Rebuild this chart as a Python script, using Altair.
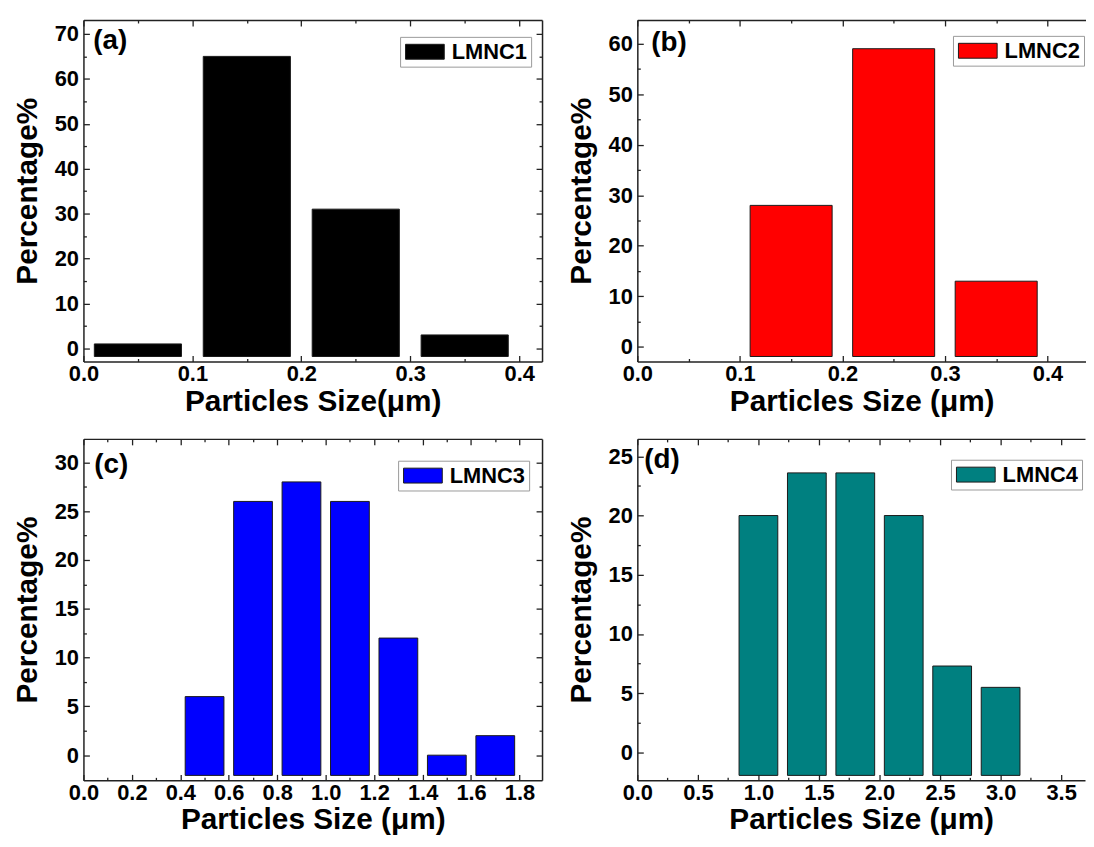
import altair as alt
import pandas as pd

FONT = "Liberation Sans"

# ---- data ----
a_size = [0.05, 0.15, 0.25, 0.35]
a_pct = [1, 65, 31, 3]
b_size = [0.15, 0.25, 0.35]
b_pct = [28, 59, 13]
c_size = [0.5, 0.7, 0.9, 1.1, 1.3, 1.5, 1.7]
c_pct = [6, 26, 28, 26, 12, 0, 2]
d_size = [1.0, 1.4, 1.8, 2.2, 2.6, 3.0]
d_pct = [20, 23.6, 23.6, 20, 7.3, 5.5]

series_names = ["LMNC1", "LMNC2", "LMNC3", "LMNC4"]
series_colors = ["#000000", "#ff0000", "#0000ff", "#008080"]
panel_tags = ["(a)", "(b)", "(c)", "(d)"]

ab_x_major = [0.0, 0.1, 0.2, 0.3, 0.4]
ab_x_minor = [0.05, 0.15, 0.25, 0.35]
a_y_major = [0, 10, 20, 30, 40, 50, 60, 70]
a_y_minor = [5, 15, 25, 35, 45, 55, 65]
b_y_major = [0, 10, 20, 30, 40, 50, 60]
b_y_minor = [5, 15, 25, 35, 45, 55]
c_x_major = [0.0, 0.2, 0.4, 0.6, 0.8, 1.0, 1.2, 1.4, 1.6, 1.8]
c_x_minor = [0.1, 0.3, 0.5, 0.7, 0.9, 1.1, 1.3, 1.5, 1.7]
c_y_major = [0, 5, 10, 15, 20, 25, 30]
c_y_minor = [2.5, 7.5, 12.5, 17.5, 22.5, 27.5]
d_x_major = [0.0, 0.5, 1.0, 1.5, 2.0, 2.5, 3.0, 3.5]
d_x_minor = [0.25, 0.75, 1.25, 1.75, 2.25, 2.75, 3.25]
d_y_major = [0, 5, 10, 15, 20, 25]
d_y_minor = [2.5, 7.5, 12.5, 17.5, 22.5]

X_TITLE_A = "Particles Size(μm)"
X_TITLE = "Particles Size (μm)"
Y_TITLE = "Percentage%"

FRAME = "#222222"
MAJOR = {"expr": "-6"}
MINOR = {"expr": "-3"}


def axis(orient, values, size, labeled=False, title=None, fmt=None, domain=True):
    kw = dict(orient=orient, values=values, tickSize=size, grid=False,
              domain=domain, domainColor=FRAME, domainWidth=1.5,
              tickColor=FRAME, tickWidth=1.3, labels=labeled,
              minExtent=0)
    if labeled:
        kw.update(labelFont=FONT, labelFontSize=22, labelFontWeight="bold",
                  labelColor="black", labelFlush=False, labelOverlap=False,
                  labelPadding=11 if orient == "left" else 8, format=fmt)
    if title:
        kw.update(title=title, titleFont=FONT, titleFontSize=30,
                  titleFontWeight="bold", titleColor="black",
                  titlePadding=12 if orient == "left" else 2)
    else:
        kw.update(title=None)
    if not labeled:
        kw.update(maxExtent=0)
    return alt.Axis(**kw)


def panel(sizes, pcts, bar_w, name, color, tag, xdom, ydom, xmaj, xmin,
          ymaj, ymin, xtitle, W, H, tag_xy, leg_xy, right=True):
    df = pd.DataFrame({"size": sizes, "pct": pcts})
    df["lo"] = df["size"] - bar_w / 2
    df["hi"] = df["size"] + bar_w / 2
    df["series"] = name
    xs = alt.Scale(domain=xdom, nice=False, zero=False)
    ys = alt.Scale(domain=ydom, nice=False, zero=False)
    base = alt.Chart(df)

    bars = base.mark_bar(stroke="#1a1a1a", strokeWidth=1).encode(
        x=alt.X("lo:Q", scale=xs,
                axis=axis("bottom", xmaj, MAJOR, True, xtitle, ".1f")),
        x2="hi:Q",
        y=alt.Y("pct:Q", scale=ys,
                axis=axis("left", ymaj, MAJOR, True, Y_TITLE, "d")),
        y2=alt.datum(ydom[0]),
        color=alt.Color("series:N",
                        scale=alt.Scale(domain=[name], range=[color]),
                        legend=alt.Legend(
                            orient="none", legendX=leg_xy[0], legendY=leg_xy[1],
                            title=None,
                            symbolType="M-2,-0.77H2V0.77H-2Z",
                            symbolSize=380, symbolOffset=10,
                            symbolStrokeColor="#1a1a1a", symbolStrokeWidth=1,
                            symbolOpacity=1,
                            labelFont=FONT, labelFontSize=22,
                            labelFontWeight="bold", labelColor="black",
                            labelOffset=16, padding=4,
                            strokeColor="#9a9a9a", fillColor="white")),
    )
    minor = base.mark_bar(opacity=0).encode(
        x=alt.X("lo:Q", scale=xs, axis=axis("bottom", xmin, MINOR, domain=False)),
        x2="hi:Q",
        y=alt.Y("pct:Q", scale=ys, axis=axis("left", ymin, MINOR, domain=False)),
    )
    top_major = base.mark_bar(opacity=0).encode(
        x=alt.X("lo:Q", scale=xs, axis=axis("top", xmaj, MAJOR)),
        x2="hi:Q",
        y=alt.Y("pct:Q", scale=ys,
                axis=axis("right", ymaj, MAJOR) if right else None),
    )
    top_minor = base.mark_bar(opacity=0).encode(
        x=alt.X("lo:Q", scale=xs, axis=axis("top", xmin, MINOR, domain=False)),
        x2="hi:Q",
        y=alt.Y("pct:Q", scale=ys,
                axis=axis("right", ymin, MINOR, domain=False) if right else None),
    )
    label = alt.Chart(pd.DataFrame({"t": [tag]})).mark_text(
        align="left", baseline="middle", font=FONT, fontSize=28,
        fontWeight="bold", color="black",
    ).encode(x=alt.value(tag_xy[0]), y=alt.value(tag_xy[1]), text="t:N")

    return alt.layer(bars, minor, top_major, top_minor, label).resolve_axis(
        x="independent", y="independent"
    ).properties(width=W, height=H)


pa = panel(a_size, a_pct, 0.08, series_names[0], series_colors[0], panel_tags[0],
           [0, 0.421], [-1.8, 72], ab_x_major, ab_x_minor, a_y_major, a_y_minor,
           X_TITLE_A, 462, 344, (10, 21), (319, 17))
pb = panel(b_size, b_pct, 0.08, series_names[1], series_colors[1], panel_tags[1],
           [0, 0.4376], [-1.9, 63.7], ab_x_major, ab_x_minor, b_y_major, b_y_minor,
           X_TITLE, 452, 344, (14, 23), (318, 16), right=False)
pc = panel(c_size, c_pct, 0.16, series_names[2], series_colors[2], panel_tags[2],
           [0, 1.893], [-2.07, 31.9], c_x_major, c_x_minor, c_y_major, c_y_minor,
           X_TITLE, 462, 344, (11, 26), (317, 22))
pd_ = panel(d_size, d_pct, 0.32, series_names[3], series_colors[3], panel_tags[3],
            [0, 3.697], [-1.93, 26.05], d_x_major, d_x_minor, d_y_major, d_y_minor,
            X_TITLE, 451, 344, (7, 21), (316, 21), right=False)

row1 = alt.hconcat(pa, pb, spacing=23).resolve_scale(color="independent")
row2 = alt.hconcat(pc, pd_, spacing=23).resolve_scale(color="independent")
chart = alt.vconcat(row1, row2, spacing=22).resolve_scale(
    color="independent"
).properties(
    padding={"left": 4, "top": 8, "right": 0, "bottom": 0},
    background="white",
).configure_view(stroke=None)

chart.save("out.html", embed_options={"renderer": "svg", "actions": False})
